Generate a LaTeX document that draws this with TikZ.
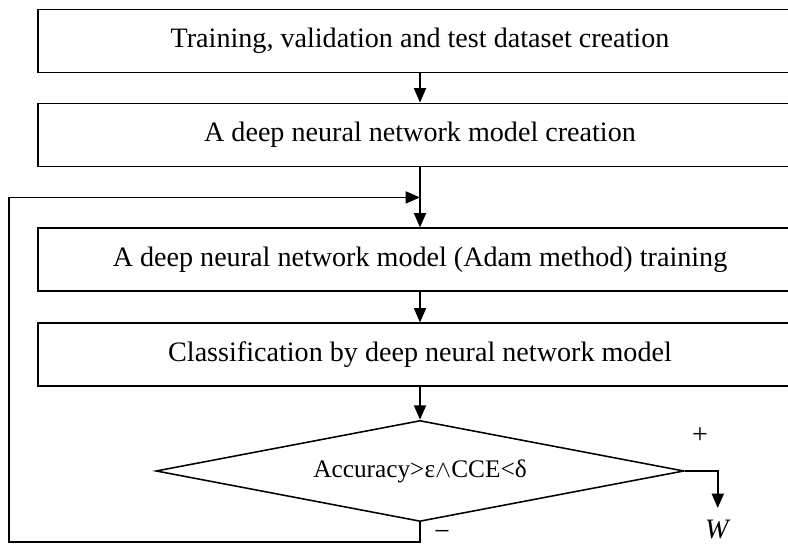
\documentclass[tikz,border=0pt]{standalone}
\usepackage{fontspec}
\setmainfont{Liberation Serif}
\usetikzlibrary{positioning}
\usetikzlibrary{arrows.meta}
\usetikzlibrary{shapes.geometric}

\begin{document}
\begin{tikzpicture}[node distance=8mm, common/.style={draw, fill=white, line width=1.3pt, minimum width=19.1cm, minimum height=1.575cm, inner sep=0pt, font=\fontsize{20}{24}\selectfont}, flecha/.style={line width=1.3pt, -{Triangle[length=3.6mm,width=3mm]}}]
\tikzstyle{cond}=[draw, diamond, aspect=5.23, line width=1.1pt, minimum width=13.2cm, minimum height=2.525cm, inner sep=0pt, font=\fontsize{18}{22}\selectfont]
\tikzstyle{texto}=[inner sep=0pt, font=\fontsize{20}{24}\selectfont]

\useasboundingbox (0,0) rectangle (19.7,-13.625);

\node (B1) [common] at (10.5,-1.025) {Training, validation and test dataset creation};
\node (B2) [common, below=0.73cm of B1] {A deep neural network model creation};
\node (B3) [common, below=1.5cm of B2] {A deep neural network model (Adam method) training};
\node (B4) [common, below=0.755cm of B3] {Classification by deep neural network model};
\node (D) [cond, below=0.81cm of B4] {Accuracy>ε$\wedge$CCE<δ};

\coordinate [below=0.75cm of B2] (entrada);
\coordinate [below=0.5cm of D] (abajo);
\coordinate (lado) at (0.225,0);
\coordinate [right=0.825cm of D.east] (salida);
\coordinate [below=0.925cm of salida] (fin);

% flujo principal
\draw [flecha] (B1.south) -- (B2.north);
\draw [flecha] (B2.south) -- (B3.north);
\draw [flecha] (B3.south) -- (B4.north);
\draw [flecha] (B4.south) -- (D.north);

% vuelta
\draw [flecha] (D.south) -- (abajo) -- (abajo -| lado) -- (lado |- entrada) -- (entrada);

% salida
\draw [flecha] (D.east) -- (salida) -- (fin);

% signos
\node (mas) [texto] at (17.5,-10.9) {+};
\node (menos) [texto] at (11.05,-13.38) {−};
\node (W) [texto, below=0.3cm of fin] {\textit{W}};
\end{tikzpicture}
\end{document}
